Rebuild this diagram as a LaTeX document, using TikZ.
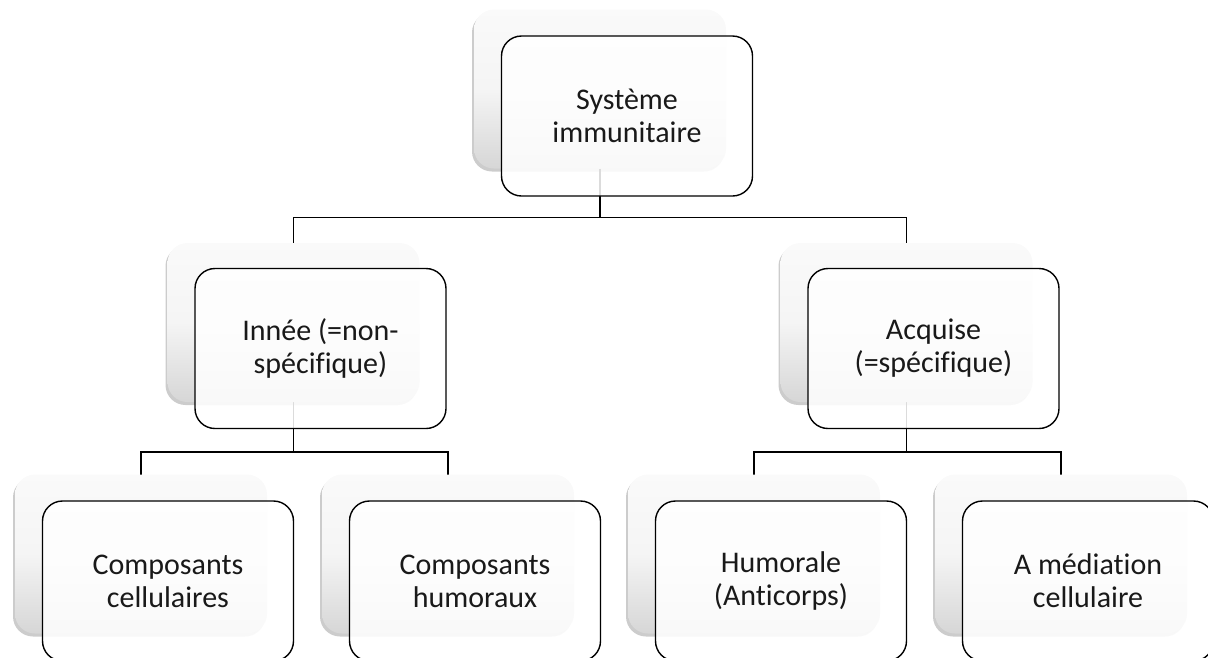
\documentclass[tikz,border=0pt]{standalone}
\usepackage{fontspec}
\setmainfont[Ligatures=NoCommon]{Carlito}
\usetikzlibrary{shadows,calc}
\begin{document}
\begin{tikzpicture}[x=1pt,y=-1pt,
  back/.style={draw=none, rounded corners=20pt, minimum width=252pt, minimum height=159pt,
    inner sep=0pt, top color=gray!4, bottom color=gray!32, middle color=gray!8,
    drop shadow={shadow xshift=-2pt, shadow yshift=-3pt, opacity=0.2, fill=black}},
  front/.style={draw=black, line width=1.4pt, rounded corners=20pt, minimum width=251pt,
    minimum height=160pt, inner sep=0pt, fill=white, fill opacity=0.86, text opacity=1,
    align=center, text=black!90, font=\fontsize{30}{33}\selectfont},
  link/.style={draw=black, line width=1.4pt}]
\useasboundingbox (0,0) rectangle (1208,657);
\coordinate (c0) at (600,89);
\coordinate (c1) at (293.5,322.5);
\coordinate (c2) at (906.5,322.5);
\coordinate (c3) at (141,554);
\coordinate (c4) at (448,554);
\coordinate (c5) at (754,554);
\coordinate (c6) at (1061,554);
% connectors
\draw[link] ($(c0)+(0,79.5)$) coordinate (b0) -- ++(0,49) coordinate (h0);
\draw[link] (h0) -| ($(c1)+(0,-79.5)$) coordinate (t1);
\draw[link] (h0) -| ($(c2)+(0,-79.5)$) coordinate (t2);
\draw[link] ($(c1)+(0,79.5)$) -- ++(0,50) coordinate (h1);
\draw[link] (h1) -| ($(c3)+(0,-79.5)$) coordinate (t3);
\draw[link] (h1) -| ($(c4)+(0,-79.5)$) coordinate (t4);
\draw[link] ($(c2)+(0,79.5)$) -- ++(0,50) coordinate (h2);
\draw[link] (h2) -| ($(c5)+(0,-79.5)$) coordinate (t5);
\draw[link] (h2) -| ($(c6)+(0,-79.5)$) coordinate (t6);
% shadow boxes
\foreach \i in {0,...,6} { \node[back] (s\i) at (c\i) {}; }
% front boxes
\node[front] (f0) at ($(c0)+(27,27)$) {Système\\immunitaire};
\node[front] (f1) at ($(c1)+(27,26)$) {Innée (=non-\\spécifique)};
\node[front] (f2) at ($(c2)+(27,26)$) {Acquise\\(=spécifique)};
\node[front] (f3) at ($(c3)+(27,27)$) {Composants\\cellulaires};
\node[front] (f4) at ($(c4)+(27,27)$) {Composants\\humoraux};
\node[front] (f5) at ($(c5)+(27,27)$) {Humorale\\(Anticorps)};
\node[front] (f6) at ($(c6)+(27,27)$) {A médiation\\cellulaire};
\end{tikzpicture}
\end{document}
